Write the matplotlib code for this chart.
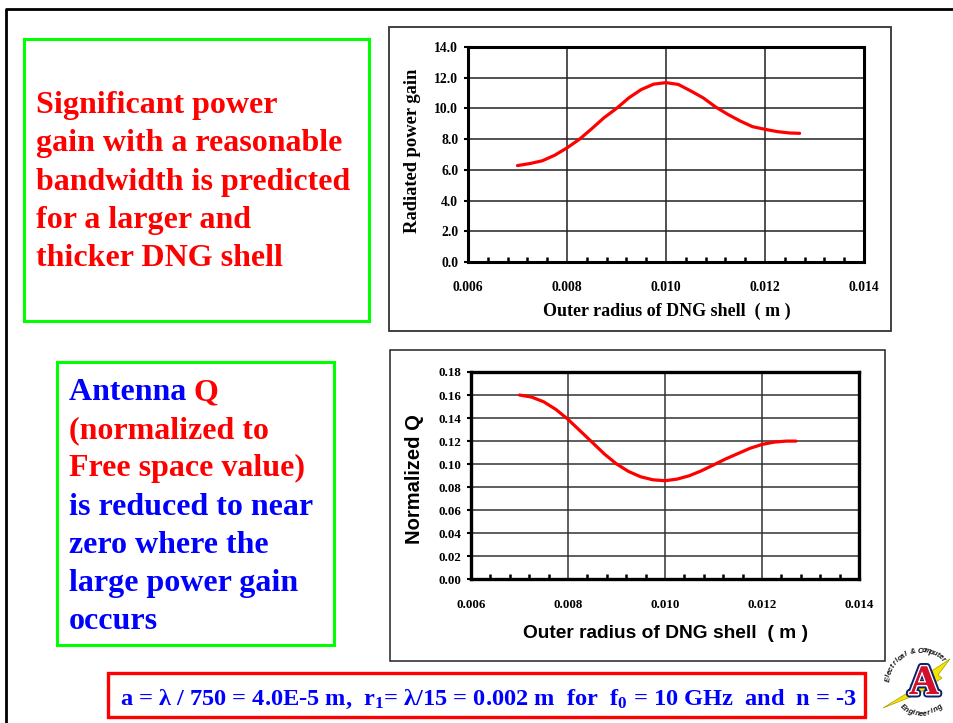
import matplotlib
matplotlib.use("Agg")
import numpy as np
import matplotlib.pyplot as plt
import matplotlib.patheffects as pe
from matplotlib.patches import Rectangle, Polygon
from matplotlib.lines import Line2D
from matplotlib.ticker import MultipleLocator, FormatStrFormatter

# ---- data -------------------------------------------------------------
outer_radius = [0.0070, 0.00725, 0.0075, 0.00775, 0.0080, 0.00825, 0.0085,
                0.00875, 0.0090, 0.00925, 0.0095, 0.00975, 0.0100, 0.01025,
                0.0105, 0.01075, 0.0110, 0.01125, 0.0115, 0.01175, 0.0120,
                0.01225, 0.0125, 0.0127]
power_gain = [6.28, 6.41, 6.59, 6.95, 7.43, 7.99, 8.68, 9.40, 10.00, 10.69,
              11.23, 11.58, 11.68, 11.56, 11.14, 10.69, 10.10, 9.61, 9.18,
              8.81, 8.64, 8.49, 8.40, 8.38]
normalized_q = [0.1600, 0.1582, 0.1541, 0.1475, 0.1389, 0.1289, 0.1189,
                0.1088, 0.1002, 0.0936, 0.0890, 0.0864, 0.0856, 0.0870,
                0.0899, 0.0942, 0.0993, 0.1045, 0.1091, 0.1137, 0.1171,
                0.1191, 0.1200, 0.1200]

gain_ylabel = "Radiated power gain"
q_ylabel = "Normalized Q"
radius_xlabel = "Outer radius of DNG shell  ( m )"

gain_text = ["Significant power", "gain with a reasonable",
             "bandwidth is predicted", "for a larger and", "thicker DNG shell"]
q_text = [("Antenna ", "blue", "Q", "red"),
          ("(normalized to", "red"),
          ("Free space value)", "red"),
          ("is reduced to near", "blue"),
          ("zero where the", "blue"),
          ("large power gain", "blue"),
          ("occurs", "blue")]
params_text = (r"a = λ / 750 = 4.0E-5 m,  r$_1$= λ/15 = 0.002 m  for  "
               r"f$_0$ = 10 GHz  and  n = -3")

# ---- styling ----------------------------------------------------------
W, H = 954, 723
RED = "#ff0000"
BLUE = "#0000ff"
GREEN = "#00ff00"
SERIF = "Liberation Serif"
SANS = "Liberation Sans"

plt.rcParams["font.family"] = [SERIF, "DejaVu Serif"]
plt.rcParams["font.weight"] = "bold"
plt.rcParams["mathtext.fontset"] = "custom"
plt.rcParams["mathtext.rm"] = "Liberation Serif:bold"
plt.rcParams["mathtext.bf"] = "Liberation Serif:bold"
plt.rcParams["mathtext.it"] = "Liberation Serif:bold"
plt.rcParams["mathtext.default"] = "bf"

fig = plt.figure(figsize=(W / 100, H / 100), dpi=100)
fig.patch.set_facecolor("white")


def fx(px):
    return px / W


def fy(py):
    return 1 - py / H


def frame(x0, y0, x1, y1, color, lw):
    fig.add_artist(Rectangle((fx(x0), fy(y1)), fx(x1) - fx(x0), fy(y0) - fy(y1),
                             transform=fig.transFigure, fill=False,
                             edgecolor=color, linewidth=lw, zorder=1))


# slide border
fig.add_artist(Line2D([fx(6), fx(6), 1.0], [0.0, fy(9), fy(9)],
                      transform=fig.transFigure, color="black", lw=2.0))


def chart(rect, y, ymax, ystep, yfmt, tick_size, spine_lw, grid_color):
    ax = fig.add_axes(rect)
    ax.plot(outer_radius, y, color=RED, lw=2.3, solid_capstyle="round",
            solid_joinstyle="round", zorder=3)
    ax.set_xlim(0.006, 0.014)
    ax.set_ylim(0, ymax)
    ax.xaxis.set_major_locator(MultipleLocator(0.002))
    ax.xaxis.set_minor_locator(MultipleLocator(0.0004))
    ax.xaxis.set_major_formatter(FormatStrFormatter("%.3f"))
    ax.yaxis.set_major_locator(MultipleLocator(ystep))
    ax.yaxis.set_major_formatter(FormatStrFormatter(yfmt))
    ax.grid(True, which="major", color=grid_color, lw=1.1, zorder=1)
    for s in ax.spines.values():
        s.set_linewidth(spine_lw)
        s.set_zorder(4)
    ax.tick_params(axis="x", which="major", length=0, pad=14,
                   labelsize=tick_size)
    ax.tick_params(axis="x", which="minor", direction="in", length=3.5,
                   width=1.8)
    ax.tick_params(axis="y", which="major", direction="out", length=3,
                   width=1.5, pad=4, labelsize=tick_size)
    for lab in ax.get_xticklabels() + ax.get_yticklabels():
        lab.set_fontweight("bold")
        lab.set_family(SERIF)
    return ax


# ---- top chart: radiated power gain ----------------------------------
frame(389, 27, 891, 331, "#333333", 1.3)
ax1 = chart([fx(468), fy(262), fx(864) - fx(468), fy(47) - fy(262)],
            power_gain, 14, 2, "%.1f", 9.8, 2.2, "#222222")
fig.text(fx(413), fy(151), gain_ylabel, rotation=90, ha="center",
         va="center", fontsize=13.3, fontweight="bold", family=SERIF)
fig.text(fx(667), fy(311), radius_xlabel, ha="center", va="center",
         fontsize=13.0, fontweight="bold", family=SERIF)

# ---- bottom chart: normalized Q --------------------------------------
frame(390, 350, 885, 661, "#222222", 1.1)
ax2 = chart([fx(471), fy(579.3), fx(859) - fx(471), fy(372) - fy(579.3)],
            normalized_q, 0.18, 0.02, "%.2f", 9.4, 2.4, "#333333")
fig.text(fx(415), fy(479), q_ylabel, rotation=90, ha="center",
         va="center", fontsize=14.5, fontweight="bold", family=SANS)
fig.text(fx(666), fy(634), radius_xlabel, ha="center", va="center",
         fontsize=13.8, fontweight="bold", family=SANS)

# ---- text boxes -------------------------------------------------------
frame(24, 39, 369, 321, GREEN, 2.2)
for i, line in enumerate(gain_text):
    fig.text(fx(36), fy(113 + 38.3 * i), line, color=RED, fontsize=23,
             fontweight="bold", family=SERIF, va="baseline")

frame(57, 362, 334, 645, GREEN, 2.2)
for i, item in enumerate(q_text):
    yb = fy(400 + 38.2 * i)
    fig.text(fx(69), yb, item[0], color=item[1], fontsize=23,
             fontweight="bold", family=SERIF, va="baseline")
    if len(item) == 4:
        fig.text(fx(194), yb, item[2], color=item[3], fontsize=23,
                 fontweight="bold", family=SERIF, va="baseline")

frame(108, 673, 865, 717, RED, 2.4)
fig.text(fx(120), fy(705), params_text, color=BLUE, fontsize=17.6,
         fontweight="bold", family=SERIF, va="baseline")

# ---- department badge -------------------------------------------------
bolt = [(883, 708), (914, 689), (910, 685), (950, 659), (938, 675),
        (942, 678), (918, 694)]
fig.add_artist(Polygon([(fx(a), fy(b)) for a, b in bolt], closed=True,
                       transform=fig.transFigure, facecolor="#f2e600",
                       edgecolor="#a89c00", lw=0.5, zorder=2))
fig.text(fx(924), fy(684), "A", color="#d0102c", fontsize=30,
         fontweight="bold", family=SERIF, ha="center", va="center",
         zorder=3,
         path_effects=[pe.withStroke(linewidth=5, foreground="#0b1f6a"),
                       pe.withStroke(linewidth=2.2, foreground="white"),
                       pe.Normal()])
cx, cy = 921, 684
for word, a0, a1, r, top in [("Electrical & Computer", 172, 48, 33, True),
                             ("Engineering", 232, 308, 30, False)]:
    angles = np.linspace(a0, a1, len(word))
    for ch, ang in zip(word, angles):
        rad = np.deg2rad(ang)
        px = cx + r * np.cos(rad)
        py = cy - r * np.sin(rad)
        rot = ang - 90 if top else ang + 90
        fig.text(fx(px), fy(py), ch, fontsize=5.5, fontweight="bold",
                 style="italic", family=SANS, rotation=rot,
                 ha="center", va="center", color="#111111")

fig.savefig("out.png", dpi=100)
